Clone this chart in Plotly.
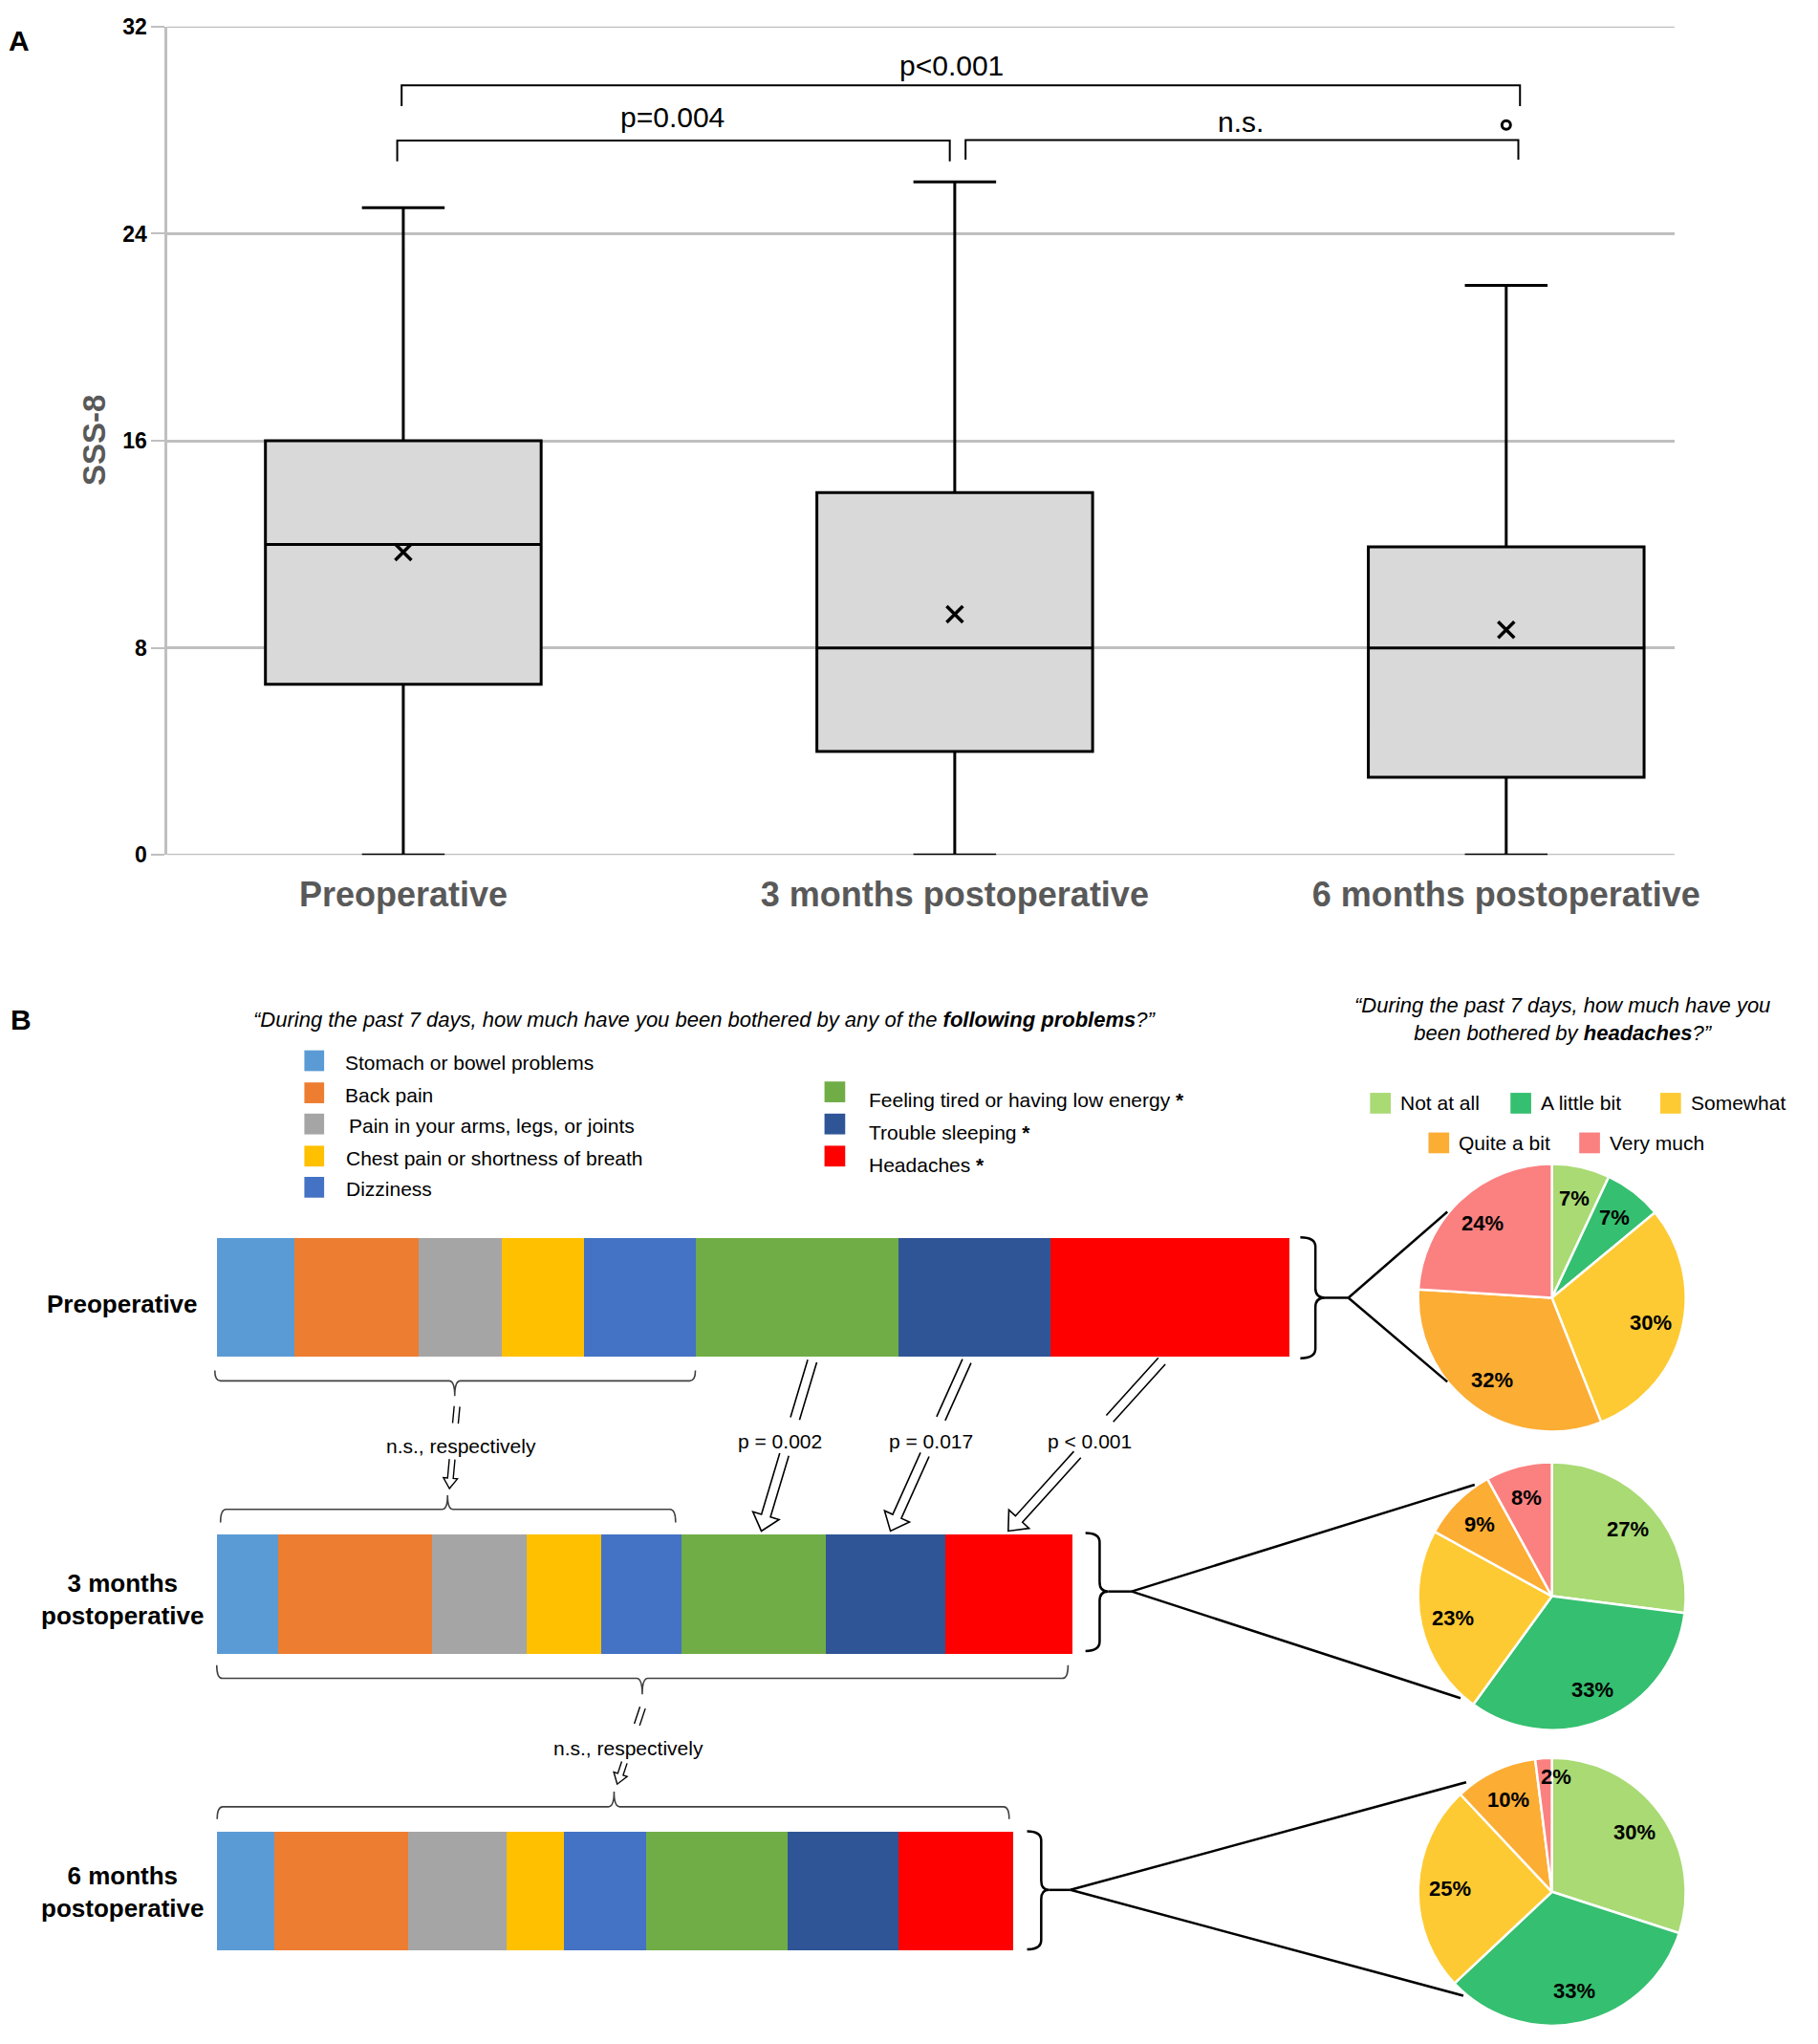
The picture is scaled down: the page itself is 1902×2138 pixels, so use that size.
import math
import plotly.graph_objects as go

W, H = 1902, 2138
FONT = "Liberation Sans, Arial, Helvetica, sans-serif"


def px(x):
    return x / W


def py(y):
    return 1 - y / H


# ---------------- Panel A data ----------------
groups = ["Preoperative", "3 months postoperative", "6 months postoperative"]
sss_q1 = [6.6, 4.0, 3.0]
sss_median = [12.0, 8.0, 8.0]
sss_q3 = [16.0, 14.0, 11.9]
sss_lower = [0, 0, 0]
sss_upper = [25, 26, 22]
sss_mean = [11.7, 9.3, 8.7]
outlier_group = [2]
outlier_value = [28.2]
sss_ticks = [0, 8, 16, 24, 32]

# ---------------- Panel B data ----------------
problems = [
    "Stomach or bowel problems",
    "Back pain",
    "Pain in your arms, legs, or joints",
    "Chest pain or shortness of breath",
    "Dizziness",
    "Feeling tired or having low energy",
    "Trouble sleeping",
    "Headaches",
]
problem_colors = ["#5b9bd5", "#ed7d31", "#a5a5a5", "#ffc000", "#4472c4",
                  "#70ad47", "#2f5597", "#ff0000"]
problem_significant = [False, False, False, False, False, True, True, True]
timepoints = ["Preoperative", "3 months<br>postoperative", "6 months<br>postoperative"]
item_mean_pre = [0.84, 1.36, 0.91, 0.89, 1.22, 2.21, 1.66, 2.61]
item_mean_3m = [0.67, 1.68, 1.03, 0.81, 0.88, 1.57, 1.30, 1.39]
item_mean_6m = [0.63, 1.46, 1.07, 0.62, 0.90, 1.54, 1.21, 1.25]

headache_levels = ["Not at all", "A little bit", "Somewhat", "Quite a bit", "Very much"]
headache_colors = ["#a9da74", "#35bf70", "#fdca33", "#fcad34", "#fb8080"]
headache_pre = [7, 7, 30, 32, 24]
headache_3m = [27, 33, 23, 9, 8]
headache_6m = [30, 33, 25, 10, 2]

fig = go.Figure()

# ---------------- Panel A: box plot ----------------
A_X0, A_DX = 428.0, 585.25          # pixel of group 0, pixels per group
A_LEFT, A_RIGHT = 177.6, 1777.0
A_TOP, A_BOTTOM = 15.0, 892.2
gx = list(range(len(groups)))

fig.add_trace(go.Box(
    x=gx, q1=sss_q1, median=sss_median, q3=sss_q3,
    lowerfence=sss_lower, upperfence=sss_upper,
    width=0.5, whiskerwidth=0.3, fillcolor="#d9d9d9",
    line=dict(color="black", width=3), boxpoints=False,
    showlegend=False, hoverinfo="skip", xaxis="x", yaxis="y"))
fig.add_trace(go.Scatter(
    x=gx, y=sss_mean, mode="markers", showlegend=False, hoverinfo="skip",
    marker=dict(symbol="x-thin", size=17, color="black",
                line=dict(width=3.5, color="black")), xaxis="x", yaxis="y"))
fig.add_trace(go.Scatter(
    x=outlier_group, y=outlier_value, mode="markers", showlegend=False,
    hoverinfo="skip",
    marker=dict(symbol="circle-open", size=9, color="black",
                line=dict(width=3, color="black")), xaxis="x", yaxis="y"))

# grid lines at the range edges (plotly hides those)
for t in (sss_ticks[0], sss_ticks[-1]):
    fig.add_shape(type="line", xref="x domain", yref="y", x0=0, x1=1, y0=t, y1=t,
                  line=dict(color="#bfbfbf", width=2.5), layer="below")


# significance brackets (data coordinates)
def bracket(xa, xb, ytop, yleg, label, lx, ly):
    fig.add_shape(type="path", xref="x", yref="y",
                  path=f"M {xa},{yleg} L {xa},{ytop} L {xb},{ytop} L {xb},{yleg}",
                  line=dict(color="black", width=2))
    fig.add_annotation(x=lx, y=ly, xref="x", yref="y", text=label, showarrow=False,
                       font=dict(family=FONT, size=30, color="black"),
                       xanchor="center", yanchor="middle")


bracket(-0.003, 2.025, 29.73, 28.93, "p<0.001", 0.994, 30.51)
bracket(-0.011, 0.991, 27.60, 26.80, "p=0.004", 0.488, 28.50)
bracket(1.0196, 2.022, 27.62, 26.86, "n.s.", 1.519, 28.32)

# ---------------- Panel B: stacked bars ----------------
B_X0, B_PX_PER_UNIT = 230.0, 97.3
B_RIGHT = 1450.0
B_Y0, B_ROW = 1360.5, 314.2
B_TOP, B_BOT = 1080.0, 2138.0
rows = list(range(len(timepoints)))

for i, name in enumerate(problems):
    fig.add_trace(go.Bar(
        x=[item_mean_pre[i], item_mean_3m[i], item_mean_6m[i]], y=rows,
        orientation="h", width=0.401, name=name,
        marker=dict(color=problem_colors[i], line=dict(width=0)),
        showlegend=False, hoverinfo="skip", xaxis="x2", yaxis="y2"))

# ---------------- helpers for decorations ----------------
def P(x, y):
    return f"{px(x):.6f},{py(y):.6f}"


def add_path(d, color="black", width=2.0):
    fig.add_shape(type="path", xref="paper", yref="paper", path=d,
                  line=dict(color=color, width=width), fillcolor="rgba(0,0,0,0)")


def add_line(x0, y0, x1, y1, color="black", width=2.0):
    fig.add_shape(type="line", xref="paper", yref="paper",
                  x0=px(x0), y0=py(y0), x1=px(x1), y1=py(y1),
                  line=dict(color=color, width=width))


def add_text(x, y, s, size, color="black", bold=False, italic=False,
             xanchor="center", align="center", angle=0):
    fig.add_annotation(x=px(x), y=py(y), xref="paper", yref="paper", text=s,
                       showarrow=False, xanchor=xanchor, yanchor="middle", align=align,
                       textangle=angle,
                       font=dict(family=FONT, size=size, color=color,
                                 weight="bold" if bold else "normal",
                                 style="italic" if italic else "normal"))


def add_rect(x0, y0, x1, y1, color):
    fig.add_shape(type="rect", xref="paper", yref="paper",
                  x0=px(x0), y0=py(y1), x1=px(x1), y1=py(y0),
                  fillcolor=color, line=dict(width=0))


# ---------------- Panel B: pies ----------------
pie_r = 142
pie_cx = 1647
pie_cy = [1361, 1677, 1990]
for vals, cy in zip([headache_pre, headache_3m, headache_6m], pie_cy):
    fig.add_trace(go.Pie(
        values=vals, labels=headache_levels, sort=False, direction="clockwise",
        rotation=0, marker=dict(colors=headache_colors, line=dict(color="white", width=2.5)),
        textinfo="none",
        domain=dict(x=[px(pie_cx - pie_r), px(pie_cx + pie_r)],
                    y=[py(cy + pie_r), py(cy - pie_r)]),
        showlegend=False, hoverinfo="skip"))
    # slice labels placed along each slice's mid-angle
    total = float(sum(vals))
    cum = 0.0
    for v in vals:
        mid = (cum + v / 2.0) / total * 2 * math.pi
        cum += v
        frac = 0.76 if v >= 5 else 0.86
        lx = pie_cx + frac * pie_r * math.sin(mid) + (12 if v < 5 else 0)
        ly = cy - frac * pie_r * math.cos(mid)
        add_text(lx, ly, f"<b>{v}%</b>", 22)


def right_brace(xh, xv, xt, y0, y1, ym, r=10):
    d = (f"M {P(xh, y0)} Q {P(xv, y0)} {P(xv, y0 + r)} L {P(xv, ym - r)} "
         f"Q {P(xv, ym)} {P(xt, ym)} Q {P(xv, ym)} {P(xv, ym + r)} "
         f"L {P(xv, y1 - r)} Q {P(xv, y1)} {P(xh, y1)}")
    add_path(d, width=2.5)


def hbrace(x0, x1, xc, y_end, y_bar, y_tick, r=6):
    d = (f"M {P(x0, y_end)} Q {P(x0, y_bar)} {P(x0 + r, y_bar)} L {P(xc - r, y_bar)} "
         f"Q {P(xc, y_bar)} {P(xc, y_tick)} Q {P(xc, y_bar)} {P(xc + r, y_bar)} "
         f"L {P(x1 - r, y_bar)} Q {P(x1, y_bar)} {P(x1, y_end)}")
    add_path(d, color="#404040", width=1.6)


def hollow(x0, y0, x1, y1, sw, hw, hl, head, width):
    L = math.hypot(x1 - x0, y1 - y0)
    ux, uy = (x1 - x0) / L, (y1 - y0) / L
    nx, ny = -uy, ux
    if head:
        bx, by = x1 - ux * hl, y1 - uy * hl
        d = (f"M {P(x0 + nx * sw / 2, y0 + ny * sw / 2)} "
             f"L {P(bx + nx * sw / 2, by + ny * sw / 2)} "
             f"L {P(bx + nx * hw / 2, by + ny * hw / 2)} "
             f"L {P(x1, y1)} "
             f"L {P(bx - nx * hw / 2, by - ny * hw / 2)} "
             f"L {P(bx - nx * sw / 2, by - ny * sw / 2)} "
             f"L {P(x0 - nx * sw / 2, y0 - ny * sw / 2)}")
    else:
        d = (f"M {P(x0 + nx * sw / 2, y0 + ny * sw / 2)} L {P(x1 + nx * sw / 2, y1 + ny * sw / 2)} "
             f"M {P(x0 - nx * sw / 2, y0 - ny * sw / 2)} L {P(x1 - nx * sw / 2, y1 - ny * sw / 2)}")
    add_path(d, width=width)


def gapped_arrow(x0, y0, x1, y1, g0, g1, sw, hw, hl, width=1.6):
    t0 = (g0 - y0) / (y1 - y0)
    t1 = (g1 - y0) / (y1 - y0)
    ax, bx = x0 + t0 * (x1 - x0), x0 + t1 * (x1 - x0)
    hollow(x0, y0, ax, g0, sw, hw, hl, False, width)
    hollow(bx, g1, x1, y1, sw, hw, hl, True, width)


# ---------------- panel labels ----------------
add_text(20, 30, "A", 30, bold=True)
add_text(22, 1066, "B", 30, bold=True)
add_text(100, 453, "SSS-8", 33, color="#595959", bold=True, angle=-90)

# ---------------- titles ----------------
add_text(748, 1066,
         "“During the past 7 days, how much have you been bothered by any of the "
         "<b>following problems</b>?”", 22, italic=True)
add_text(1658, 1066,
         "“During the past 7 days, how much have you<br>been bothered by <b>headaches</b>?”",
         22, italic=True)

# ---------------- problem legend ----------------
left_sq_y = [1110, 1144, 1177, 1211, 1244]
left_tx_x = [364, 364, 368, 365, 365]
right_sq_y = [1143, 1177, 1211]
for k in range(5):
    add_rect(323, left_sq_y[k] - 11, 344, left_sq_y[k] + 11, problem_colors[k])
    add_text(left_tx_x[k], left_sq_y[k] + 2, problems[k], 21, xanchor="left")
for k in range(3):
    j = 5 + k
    add_rect(875, right_sq_y[k] - 11, 897, right_sq_y[k] + 11, problem_colors[j])
    label = problems[j] + (" <b>*</b>" if problem_significant[j] else "")
    add_text(920, right_sq_y[k] + 9, label, 21, xanchor="left")

# ---------------- headache legend ----------------
pie_leg = [(1454, 1155), (1603, 1155), (1762, 1155), (1516, 1197), (1676, 1197)]
for k, (lx, ly) in enumerate(pie_leg):
    add_rect(lx, ly - 11, lx + 22, ly + 11, headache_colors[k])
    add_text(lx + 30, ly, headache_levels[k], 21, xanchor="left")

# ---------------- row labels ----------------
row_label_y = [1368, 1680, 1990]
for lab, yy in zip(timepoints, row_label_y):
    add_text(130, yy, lab, 26, bold=True)

# ---------------- braces and connecting lines to pies ----------------
brace_geo = [
    # xh, xv, xt, y0, y1, ym, vertex_x, upper_end, lower_end
    (1380, 1396, 1406, 1297, 1425, 1361, 1431, (1536, 1270), (1536, 1450)),
    (1152, 1167, 1176, 1610, 1735, 1672, 1201, (1565, 1559), (1550, 1785)),
    (1090, 1105, 1113, 1926, 2051, 1988, 1136, (1556, 1874), (1553, 2100)),
]
for xh, xv, xt, y0, y1, ym, vx, up, lo in brace_geo:
    right_brace(xh, xv, xt, y0, y1, ym)
    add_line(xt, ym, vx, ym, width=2.5)
    add_line(vx, ym, up[0], up[1], width=2.5)
    add_line(vx, ym, lo[0], lo[1], width=2.5)

# ---------------- horizontal braces ----------------
hbrace(228, 738, 482.6, 1438, 1449, 1465)
hbrace(234, 717, 475, 1599, 1585, 1570)
hbrace(230, 1133.5, 681.6, 1750, 1764, 1781)
hbrace(230.5, 1071, 651.7, 1913, 1900, 1884)

# ---------------- arrows ----------------
gapped_arrow(485, 1476, 477, 1563, 1494, 1532, 6, 15, 11, width=1.4)
gapped_arrow(682, 1795, 655, 1876, 1813, 1853, 6, 15, 11, width=1.4)
add_text(489, 1518, "n.s., respectively", 21)
add_text(667, 1838, "n.s., respectively", 21)

gapped_arrow(862, 1428, 808, 1608, 1489, 1527, 10, 29, 17)
gapped_arrow(1026, 1428, 945, 1608, 1489, 1527, 10, 29, 17)
gapped_arrow(1233, 1428, 1070, 1608, 1489, 1527, 10, 29, 17)
add_text(828, 1513, "p = 0.002", 21)
add_text(988, 1513, "p = 0.017", 21)
add_text(1156, 1513, "p < 0.001", 21)

# ---------------- layout ----------------
fig.update_layout(
    width=W, height=H, margin=dict(l=0, r=0, t=0, b=0),
    paper_bgcolor="white", plot_bgcolor="white", showlegend=False,
    font=dict(family=FONT),
    xaxis=dict(domain=[px(A_LEFT), px(A_RIGHT)],
               range=[(A_LEFT - A_X0) / A_DX, (A_RIGHT - A_X0) / A_DX],
               tickvals=gx, ticktext=groups, showgrid=False, zeroline=False,
               showline=False, ticks="outside", ticklen=9,
               tickcolor="rgba(0,0,0,0)",
               tickfont=dict(family=FONT, size=36, color="#595959", weight="bold"),
               anchor="y"),
    yaxis=dict(domain=[py(A_BOTTOM), py(A_TOP)], range=[0, 32], tickvals=sss_ticks,
               showgrid=True, gridcolor="#bfbfbf", gridwidth=2.5, zeroline=False,
               showline=True, linecolor="#bfbfbf", linewidth=2.5,
               ticks="outside", ticklen=14, tickwidth=2, tickcolor="#bfbfbf",
               tickfont=dict(family=FONT, size=23, color="black", weight="bold"),
               anchor="x"),
    xaxis2=dict(domain=[px(B_X0), px(B_RIGHT)],
                range=[0, (B_RIGHT - B_X0) / B_PX_PER_UNIT], visible=False,
                anchor="y2"),
    yaxis2=dict(domain=[py(B_BOT), py(B_TOP)],
                range=[(B_BOT - B_Y0) / B_ROW, (B_TOP - B_Y0) / B_ROW],
                visible=False, anchor="x2"),
    barmode="stack", bargap=0,
)

POST = (
    "var gd=document.getElementById('{plot_id}');"
    "document.documentElement.style.margin='0px';"
    "document.documentElement.style.padding='0px';"
    "document.body.style.margin='0px';"
    "document.body.style.padding='0px';"
    "gd.style.position='absolute';gd.style.left='0px';gd.style.top='0px';"
)

fig.write_html("out.html", config={"displayModeBar": False}, post_script=POST)
